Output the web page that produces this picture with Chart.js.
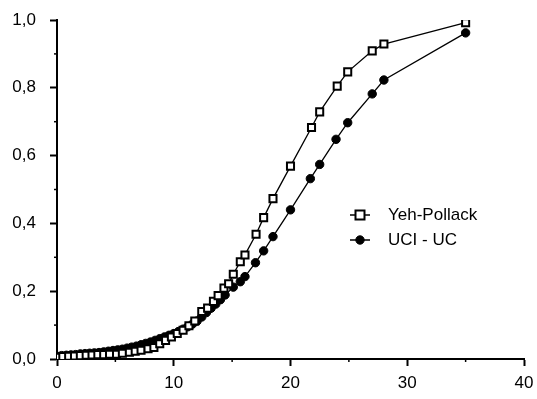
<!DOCTYPE html>
<html>
<head>
<meta charset="utf-8">
<script src="https://cdn.jsdelivr.net/npm/chart.js@4.4.1/dist/chart.umd.min.js"></script>
<style>
  html, body { margin: 0; padding: 0; background: #fff; }
  #wrap { width: 537px; height: 399px; }
</style>
</head>
<body>
<div id="wrap"><canvas id="c" width="537" height="399"></canvas></div>
<script>
// ---- data ----
const seriesNames = ["Yeh-Pollack", "UCI - UC"];

const yehX = [0.0, 0.5, 1.0, 1.5, 2.0, 2.5, 3.0, 3.5, 4.0, 4.5, 5.1, 5.6, 6.2, 6.7, 7.2, 7.8, 8.3, 8.8, 9.3, 9.8, 10.3, 10.8, 11.3, 11.8, 12.4, 12.9, 13.4, 13.8, 14.3, 14.7, 15.1, 15.7, 16.1, 17.05, 17.7, 18.5, 20.0, 21.8, 22.5, 24.0, 24.9, 27.0, 28.0, 35.0];
const yehY = [0.005, 0.007, 0.008, 0.009, 0.010, 0.011, 0.012, 0.013, 0.013, 0.014, 0.014, 0.017, 0.020, 0.023, 0.026, 0.030, 0.034, 0.045, 0.055, 0.065, 0.075, 0.085, 0.098, 0.112, 0.140, 0.150, 0.170, 0.187, 0.209, 0.222, 0.250, 0.287, 0.307, 0.368, 0.417, 0.473, 0.569, 0.683, 0.729, 0.805, 0.847, 0.909, 0.929, 0.992];

const uciX = [0.0, 0.4, 0.8, 1.2, 1.6, 2.0, 2.4, 2.8, 3.2, 3.6, 4.0, 4.4, 4.8, 5.2, 5.6, 6.0, 6.4, 6.8, 7.2, 7.6, 8.0, 8.4, 8.8, 9.2, 9.6, 10.0, 10.4, 10.8, 11.2, 11.6, 12.0, 12.4, 12.8, 13.2, 13.6, 14.0, 14.4, 15.1, 15.7, 16.1, 17.0, 17.7, 18.5, 20.0, 21.7, 22.5, 23.9, 24.9, 27.0, 28.0, 35.0];
const uciY = [0.008, 0.010, 0.011, 0.012, 0.013, 0.015, 0.016, 0.017, 0.018, 0.019, 0.021, 0.023, 0.025, 0.027, 0.029, 0.032, 0.035, 0.038, 0.042, 0.046, 0.050, 0.055, 0.060, 0.065, 0.070, 0.075, 0.081, 0.088, 0.095, 0.103, 0.112, 0.124, 0.137, 0.150, 0.162, 0.175, 0.189, 0.212, 0.228, 0.243, 0.284, 0.319, 0.361, 0.440, 0.532, 0.574, 0.648, 0.697, 0.782, 0.823, 0.962];

const xTicks = [0, 10, 20, 30, 40];
const yTicks = [0.0, 0.2, 0.4, 0.6, 0.8, 1.0];
const xMinorTicks = [5, 15, 25, 35];
const yMinorTicks = [0.1, 0.3, 0.5, 0.7, 0.9];

// ---- build ----
const toPts = (xs, ys) => xs.map((x, i) => ({ x: x, y: ys[i] }));
const FONT = { family: "'Liberation Sans', Arial, sans-serif", size: 17 };

const minorTicks = {
  id: 'minorTicks',
  afterDraw(chart) {
    const { ctx, scales: { x, y } } = chart;
    ctx.save();
    ctx.strokeStyle = '#000';
    ctx.lineWidth = 1.5;
    xMinorTicks.forEach(v => {
      const px = x.getPixelForValue(v);
      ctx.beginPath(); ctx.moveTo(px, x.top); ctx.lineTo(px, x.top + 3); ctx.stroke();
    });
    yMinorTicks.forEach(v => {
      const py = y.getPixelForValue(v);
      ctx.beginPath(); ctx.moveTo(y.right, py); ctx.lineTo(y.right - 3, py); ctx.stroke();
    });
    ctx.restore();
  }
};

const innerLegend = {
  id: 'innerLegend',
  afterDraw(chart) {
    const { ctx } = chart;
    const items = [{ y: 215 }, { y: 240 }];
    ctx.save();
    chart.data.datasets.forEach((ds, i) => {
      const cy = items[i].y;
      const cx = 360;
      ctx.strokeStyle = '#000';
      ctx.lineWidth = 1.5;
      ctx.beginPath(); ctx.moveTo(cx - 10, cy); ctx.lineTo(cx + 10, cy); ctx.stroke();
      ctx.fillStyle = ds.pointBackgroundColor;
      ctx.strokeStyle = ds.pointBorderColor;
      ctx.lineWidth = ds.pointBorderWidth;
      ctx.beginPath();
      if (ds.pointStyle === 'rect') {
        const r = ds.pointRadius - 0.5;
        ctx.rect(cx - r, cy - r, 2 * r, 2 * r);
      } else {
        ctx.arc(cx, cy, ds.pointRadius, 0, Math.PI * 2);
      }
      ctx.fill(); ctx.stroke();
      ctx.fillStyle = '#000';
      ctx.font = FONT.size + 'px ' + FONT.family;
      ctx.textBaseline = 'middle';
      ctx.textAlign = 'left';
      ctx.fillText(ds.label, 388, cy);
    });
    ctx.restore();
  }
};

new Chart(document.getElementById('c'), {
  type: 'scatter',
  data: {
    datasets: [
      {
        label: seriesNames[0],
        data: toPts(yehX, yehY),
        showLine: true,
        borderColor: '#000',
        borderWidth: 1.3,
        pointStyle: 'rect',
        pointRadius: 5,
        pointBackgroundColor: '#fff',
        pointBorderColor: '#000',
        pointBorderWidth: 2
      },
      {
        label: seriesNames[1],
        data: toPts(uciX, uciY),
        showLine: true,
        borderColor: '#000',
        borderWidth: 1.3,
        pointStyle: 'circle',
        pointRadius: 4.2,
        pointBackgroundColor: '#000',
        pointBorderColor: '#000',
        pointBorderWidth: 1
      }
    ]
  },
  options: {
    responsive: false,
    animation: false,
    devicePixelRatio: 1,
    layout: { padding: { top: 20, right: 13, left: 0, bottom: 0 } },
    plugins: { legend: { display: false }, tooltip: { enabled: false } },
    scales: {
      x: {
        type: 'linear', min: 0, max: 40,
        afterBuildTicks: s => { s.ticks = xTicks.map(v => ({ value: v })); },
        afterFit: s => { s.height = 40; s.paddingLeft = 0; s.paddingRight = 0; },
        grid: { drawOnChartArea: false, drawTicks: true, tickLength: 7, tickWidth: 2, tickColor: '#000' },
        border: { display: true, color: '#000', width: 2 },
        ticks: { color: '#000', font: FONT, padding: 7, maxRotation: 0 }
      },
      y: {
        type: 'linear', min: 0, max: 1,
        afterBuildTicks: s => { s.ticks = yTicks.map(v => ({ value: v })); },
        afterFit: s => { s.width = 57; s.paddingTop = 0; s.paddingBottom = 0; },
        grid: { drawOnChartArea: false, drawTicks: true, tickLength: 7, tickWidth: 2, tickColor: '#000' },
        border: { display: true, color: '#000', width: 2 },
        ticks: { color: '#000', font: FONT, padding: 14, callback: v => v.toFixed(1).replace('.', ',') }
      }
    }
  },
  plugins: [minorTicks, innerLegend]
});
</script>
</body>
</html>
